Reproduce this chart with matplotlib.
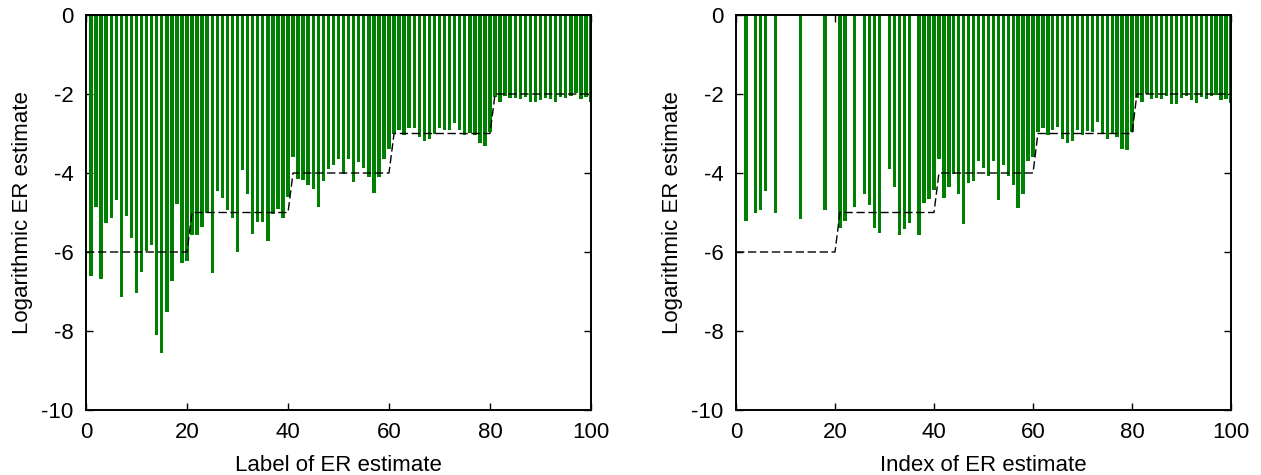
import matplotlib
matplotlib.use("Agg")
import matplotlib.pyplot as plt
import numpy as np

# estimate index 1..100
idx = np.arange(1, 101)

# left panel: log ER estimate per label
label_vals = [
    -6.60, -4.87, -6.68, -5.27, -5.15, -4.68, -7.14, -5.10, -5.65, -7.05,
    -6.51, -5.97, -5.83, -8.09, -8.55, -7.51, -6.73, -4.78, -6.28, -6.23,
    -5.57, -5.58, -5.36, -5.02, -6.54, -4.46, -4.64, -4.94, -5.15, -6.01,
    -3.92, -4.54, -5.54, -5.23, -5.23, -5.72, -5.04, -4.92, -5.15, -4.60,
    -3.60, -4.14, -4.18, -4.30, -4.41, -4.87, -4.19, -3.90, -3.81, -3.65,
    -4.03, -3.65, -4.23, -3.73, -3.88, -4.09, -4.50, -4.09, -3.65, -3.40,
    -3.00, -2.91, -3.04, -2.85, -2.85, -3.08, -3.18, -3.14, -3.00, -2.85,
    -2.91, -2.91, -2.74, -2.91, -3.04, -2.98, -3.04, -3.23, -3.32, -2.96,
    -2.07, -2.19, -2.05, -2.11, -2.11, -2.13, -2.08, -2.19, -2.19, -2.15,
    -2.11, -2.13, -2.19, -2.08, -2.11, -2.05, -1.98, -2.13, -2.08, -2.19,
]

# right panel: log ER estimate per index (0 = no bar)
index_vals = [
    0.00, -5.22, 0.00, -5.02, -4.94, -4.46, 0.00, -5.02, 0.00, 0.00,
    0.00, 0.00, -5.16, 0.00, 0.00, 0.00, 0.00, -4.94, 0.00, 0.00,
    -5.40, -5.22, 0.00, -4.85, 0.00, -4.54, -4.81, -5.40, -5.53, 0.00,
    -3.91, -4.35, -5.58, -5.43, -5.26, 0.00, -5.58, -4.77, -4.67, -4.42,
    -3.65, -4.63, -4.36, -4.03, -4.54, -5.30, -4.26, -4.19, -3.69, -3.87,
    -4.08, -3.69, -4.68, -3.81, -4.08, -4.30, -4.89, -4.53, -3.69, -3.60,
    -2.95, -2.85, -3.04, -2.91, -2.84, -3.15, -3.23, -3.19, -2.91, -3.04,
    -2.93, -2.95, -2.70, -2.98, -3.15, -3.00, -3.08, -3.38, -3.42, -2.95,
    -2.11, -2.19, -2.00, -2.13, -2.11, -2.13, -2.06, -2.25, -2.25, -2.11,
    -2.06, -2.15, -2.22, -2.08, -2.13, -2.06, -2.03, -2.16, -2.13, -2.22,
]

# true ER level (dashed)
true_x = [0, 20, 21, 40, 41, 60, 61, 80, 81, 100]
true_y = [-6, -6, -5, -5, -4, -4, -3, -3, -2, -2]

xticks = [0, 20, 40, 60, 80, 100]
yticks = [-10, -8, -6, -4, -2, 0]
xlabels = ["Label of ER estimate", "Index of ER estimate"]
ylabel = "Logarithmic ER estimate"

plt.rcParams["font.family"] = ["Liberation Sans", "DejaVu Sans"]
plt.rcParams["font.size"] = 16
plt.rcParams["axes.unicode_minus"] = False

fig = plt.figure(figsize=(12.61, 4.75), dpi=100)
ax1 = fig.add_axes([86 / 1261, 65 / 475, 505 / 1261, 395 / 475])
ax2 = fig.add_axes([736 / 1261, 65 / 475, 495 / 1261, 395 / 475])

for ax, vals, xl in [(ax1, label_vals, xlabels[0]), (ax2, index_vals, xlabels[1])]:
    ax.bar(idx, vals, width=0.68, color="#008000", edgecolor="none", zorder=2)
    ax.plot(true_x, true_y, color="black", lw=1.0, dashes=(6, 2.6), zorder=3)
    ax.set_xlim(0, 100)
    ax.set_ylim(-10, 0)
    ax.set_xticks(xticks)
    ax.set_yticks(yticks)
    ax.set_xlabel(xl, labelpad=8)
    ax.set_ylabel(ylabel, labelpad=6)
    ax.tick_params(direction="in", length=5, width=1, top=True, right=True,
                   labelsize=16, pad=9)
    for sp in ax.spines.values():
        sp.set_linewidth(1.4)
        sp.set_zorder(5)

fig.savefig("out.png", dpi=100)
